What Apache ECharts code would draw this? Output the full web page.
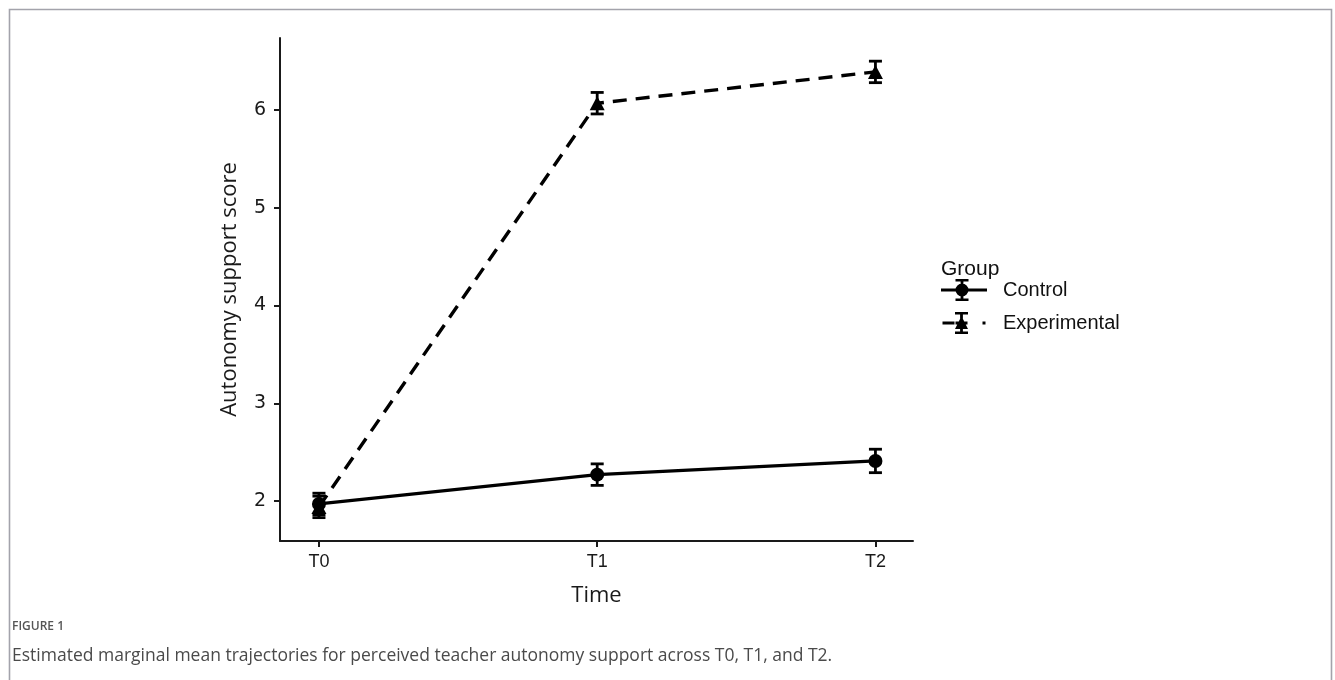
<!DOCTYPE html>
<html>
<head>
<meta charset="utf-8">
<title>Autonomy support trajectories</title>
<script src="https://cdn.jsdelivr.net/npm/echarts@6/dist/echarts.min.js"></script>
<style>
  html, body { margin: 0; padding: 0; background: #fff; }
  #chart { width: 1335px; height: 680px; }
</style>
</head>
<body>
<div id="chart"></div>
<script>
// Measurement occasions
const timePoints = ['T0', 'T1', 'T2'];
const timeIndex = [0, 1, 2];

// Estimated marginal means per group
const controlMeans = [1.97, 2.27, 2.41];
const experimentalMeans = [1.94, 6.07, 6.39];

// Half-width of the error bars (standard error)
const controlErr = [0.11, 0.11, 0.12];
const experimentalErr = [0.11, 0.11, 0.11];

// Y-axis ticks
const yTicks = [2, 3, 4, 5, 6];

const titleText = 'FIGURE 1';
const captionText = 'Estimated marginal mean trajectories for perceived teacher autonomy support across T0, T1, and T2.';

const chart = echarts.init(document.getElementById('chart'), null, { renderer: 'canvas' });

function meanPoints(means) {
  return timeIndex.map((x, i) => [x, means[i]]);
}
function barPoints(means, errs) {
  return timeIndex.map((x, i) => [x, means[i] - errs[i], means[i] + errs[i]]);
}

// Vertical error bar with horizontal caps
function renderErrorBar(params, api) {
  const x = api.value(0);
  const lo = api.coord([x, api.value(1)]);
  const hi = api.coord([x, api.value(2)]);
  const half = 6.5;
  const style = { stroke: '#000', lineWidth: 2.8, fill: null };
  return {
    type: 'group',
    children: [
      { type: 'line', shape: { x1: lo[0], y1: lo[1], x2: hi[0], y2: hi[1] }, style },
      { type: 'line', shape: { x1: hi[0] - half, y1: hi[1], x2: hi[0] + half, y2: hi[1] }, style },
      { type: 'line', shape: { x1: lo[0] - half, y1: lo[1], x2: lo[0] + half, y2: lo[1] }, style }
    ]
  };
}

// Legend keys: line + point + error bar, in a 46x22 box (all sub-paths wound clockwise)
const controlIcon = 'path://M0 9.4H46V12.6H0Z M19.6 0H22.4V22H19.6Z M14.5 0H27.5V2.6H14.5Z M14.5 19.4H27.5V22H14.5Z ' +
  'M14.5 11A6.5 6.5 0 1 1 27.5 11A6.5 6.5 0 1 1 14.5 11Z';
const experimentalIcon = 'path://M2 9.4H14V12.6H2Z M19.6 0H22.4V22H19.6Z M14.5 0H27.5V2.6H14.5Z M14.5 19.4H27.5V22H14.5Z ' +
  'M21 4L27.5 17H14.5Z M15 9.4H27V12.6H15Z M42 9.4H45V12.6H42Z';

chart.setOption({
  animation: false,
  backgroundColor: '#fff',
  textStyle: { fontFamily: 'Liberation Sans' },
  grid: { left: 280, right: 422, top: 38, bottom: 139 },
  legend: {
    left: 941,
    top: 279,
    padding: 0,
    orient: 'vertical',
    itemWidth: 46,
    itemHeight: 22,
    itemGap: 11,
    itemStyle: { borderWidth: 0 },
    textStyle: { fontFamily: 'Liberation Sans', fontSize: 20, color: '#111', padding: [0, 0, 0, 11] },
    data: [
      { name: 'Control', icon: controlIcon },
      { name: 'Experimental', icon: experimentalIcon }
    ]
  },
  graphic: [
    { type: 'rect', shape: { x: 9.5, y: 9.5, width: 1322, height: 720 },
      style: { fill: null, stroke: '#a3a3ab', lineWidth: 1.6 }, silent: true },
    { type: 'text', left: 941, top: 259,
      style: { text: 'Group', font: '21px "Liberation Sans"', fill: '#111' } },
    { type: 'text', left: 12, top: 621,
      style: { text: titleText, font: '600 12px "Open Sans"', fill: '#555' } },
    { type: 'text', left: 12, top: 647,
      style: { text: captionText, font: '17.5px "Open Sans"', fill: '#4a4a4a' } }
  ],
  xAxis: {
    type: 'value',
    min: -0.14,
    max: 2.135,
    name: 'Time',
    nameLocation: 'middle',
    nameGap: 44,
    nameTextStyle: { fontFamily: 'Open Sans', fontSize: 22, color: '#1a1a1a' },
    splitLine: { show: false },
    axisLine: { show: true, onZero: false, lineStyle: { color: '#1a1a1a', width: 2 } },
    axisTick: { show: true, customValues: timeIndex, length: 6, lineStyle: { color: '#1a1a1a', width: 2 } },
    axisLabel: {
      customValues: timeIndex,
      formatter: v => timePoints[Math.round(v)],
      fontFamily: 'Liberation Sans', fontSize: 18, color: '#1a1a1a', margin: 12
    }
  },
  yAxis: {
    type: 'value',
    min: 1.591,
    max: 6.737,
    name: 'Autonomy support score',
    nameLocation: 'middle',
    nameGap: 39,
    nameRotate: 90,
    nameTextStyle: { fontFamily: 'Open Sans', fontSize: 22, color: '#1a1a1a' },
    splitLine: { show: false },
    axisLine: { show: true, onZero: false, lineStyle: { color: '#1a1a1a', width: 2 } },
    axisTick: { show: true, customValues: yTicks, length: 6, lineStyle: { color: '#1a1a1a', width: 2 } },
    axisLabel: {
      customValues: yTicks,
      fontFamily: 'DejaVu Sans', fontSize: 19, color: '#1a1a1a', margin: 14
    }
  },
  series: [
    {
      name: 'Control',
      type: 'line',
      data: meanPoints(controlMeans),
      symbol: 'circle',
      symbolSize: 14,
      color: '#000',
      itemStyle: { color: '#000' },
      lineStyle: { color: '#000', width: 3.2 },
      z: 3
    },
    {
      name: 'Experimental',
      type: 'line',
      data: meanPoints(experimentalMeans),
      symbol: 'triangle',
      symbolSize: [15, 14],
      color: '#000',
      itemStyle: { color: '#000' },
      lineStyle: { color: '#000', width: 3.4, type: [14, 9] },
      z: 3
    },
    {
      name: 'Control',
      type: 'custom',
      renderItem: renderErrorBar,
      data: barPoints(controlMeans, controlErr),
      encode: { x: 0, y: [1, 2] },
      z: 4
    },
    {
      name: 'Experimental',
      type: 'custom',
      renderItem: renderErrorBar,
      data: barPoints(experimentalMeans, experimentalErr),
      encode: { x: 0, y: [1, 2] },
      z: 4
    }
  ]
});
</script>
</body>
</html>
